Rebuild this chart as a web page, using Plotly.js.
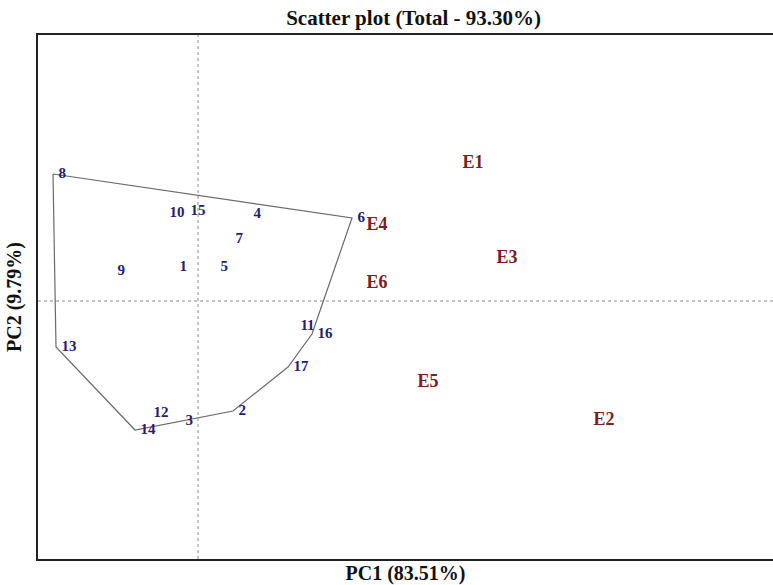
<!DOCTYPE html>
<html>
<head>
<meta charset="utf-8">
<script src="https://cdn.plot.ly/plotly-3.0.1.min.js"></script>
<style>html,body{margin:0;padding:0;background:#fff;}#chart{width:773px;height:585px;}</style>
</head>
<body>
<div id="chart"></div>
<script>
// Genotype scores (PC1, PC2)
const genotypes = ["1","2","3","4","5","6","7","8","9","10","11","12","13","14","15","16","17"];
const genoPC1 = [-0.48, 0.70, -0.36, 1.00, 0.34, 3.08, 0.64, -2.90, -1.72, -0.68, 1.94, -1.00, -2.84, -1.26, -0.26, 2.28, 1.80];
const genoPC2 = [0.68, -2.20, -2.40, 1.74, 0.68, 1.66, 1.24, 2.54, 0.60, 1.76, -0.50, -2.24, -0.92, -2.58, 1.80, -0.66, -1.32];

// Environment scores (PC1, PC2)
const environments = ["E1","E2","E3","E4","E5","E6"];
const envPC1 = [5.50, 8.12, 6.18, 3.58, 4.60, 3.58];
const envPC2 = [2.76, -2.38, 0.86, 1.52, -1.62, 0.36];

// Convex hull vertices (genotype labels, in order)
const hullOrder = ["8","6","16","17","2","3","14","13","8"];

const hullX = hullOrder.map(g => genoPC1[genotypes.indexOf(g)]);
const hullY = hullOrder.map(g => genoPC2[genotypes.indexOf(g)]);

const serif = "Liberation Serif, Times New Roman, serif";

const traces = [
  {
    x: hullX, y: hullY, mode: "lines", type: "scatter",
    line: {color: "#6a6a6a", width: 1.2},
    hoverinfo: "skip", showlegend: false
  },
  {
    x: genoPC1, y: genoPC2, text: genotypes, mode: "markers+text", type: "scatter",
    marker: {size: 7, color: "rgba(0,0,0,0)"},
    textposition: "middle right",
    textfont: {family: serif, size: 15, color: "#1f216e", weight: "bold"},
    showlegend: false
  },
  {
    x: envPC1, y: envPC2, text: environments, mode: "text", type: "scatter",
    textposition: "middle center",
    textfont: {family: serif, size: 18, color: "#7a1e1e", weight: "bold"},
    showlegend: false
  }
];

const layout = {
  width: 773, height: 585,
  margin: {l: 38, r: 0, t: 35, b: 26},
  paper_bgcolor: "#fff", plot_bgcolor: "#fff",
  title: {
    text: "<b>Scatter plot (Total - 93.30%)</b>",
    font: {family: serif, size: 21, color: "#111"},
    x: 0.511, xref: "paper", xanchor: "center",
    y: 0.969, yref: "container", yanchor: "middle"
  },
  xaxis: {
    range: [-3.2, 11.5], showgrid: false, zeroline: false,
    showticklabels: false, ticks: "",
    showline: true, mirror: true, linecolor: "#222", linewidth: 2,
    title: {text: "<b>PC1 (83.51%)</b>", font: {family: serif, size: 20, color: "#111"}, standoff: 6}
  },
  yaxis: {
    range: [-5.16, 5.32], showgrid: false, zeroline: false,
    showticklabels: false, ticks: "",
    showline: true, mirror: false, linecolor: "#222", linewidth: 2,
    title: {text: "<b>PC2 (9.79%)</b>", font: {family: serif, size: 20, color: "#111"}, standoff: 9}
  },
  shapes: [
    {type: "line", xref: "x", yref: "paper", x0: 0, x1: 0, y0: 0, y1: 1,
     line: {color: "#8a8a8a", width: 1, dash: "dot"}},
    {type: "line", xref: "paper", yref: "y", x0: 0, x1: 1, y0: 0, y1: 0,
     line: {color: "#8a8a8a", width: 1, dash: "dot"}}
  ]
};

Plotly.newPlot("chart", traces, layout, {displayModeBar: false, staticPlot: true});
</script>
</body>
</html>
